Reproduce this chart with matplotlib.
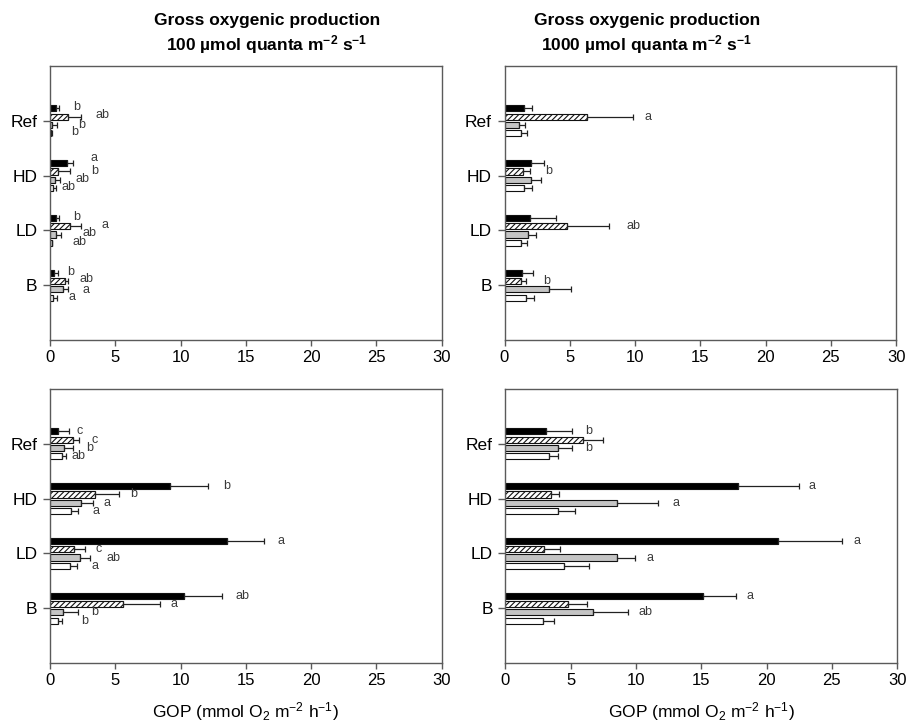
import matplotlib
matplotlib.use("Agg")
import matplotlib.pyplot as plt
import numpy as np

plt.rcParams['font.family'] = ['Liberation Sans', 'DejaVu Sans']
plt.rcParams['mathtext.fontset'] = 'custom'
plt.rcParams['mathtext.rm'] = 'Liberation Sans'
plt.rcParams['mathtext.it'] = 'Liberation Sans:italic'
plt.rcParams['mathtext.bf'] = 'Liberation Sans:bold'
plt.rcParams['hatch.linewidth'] = 0.8

# ---------------- data ----------------
categories = ["Ref", "HD", "LD", "B"]
x_ticks = [0, 5, 10, 15, 20, 25, 30]

# Panel A: top-left (100 umol quanta, upper row)
a_black = [0.46, 1.28, 0.46, 0.33]
a_black_err = [0.26, 0.46, 0.26, 0.26]
a_hatch = [1.40, 0.64, 1.53, 1.15]
a_hatch_err = [0.95, 0.89, 0.85, 0.20]
a_gray = [0.18, 0.38, 0.46, 1.02]
a_gray_err = [0.32, 0.39, 0.38, 0.38]
a_white = [0.08, 0.20, 0.13, 0.26]
a_white_err = [0.10, 0.26, 0.05, 0.30]
a_letters = [["b", "ab", "b", "b"],
             ["a", "b", "ab", "ab"],
             ["b", "a", "ab", "ab"],
             ["b", "ab", "a", "a"]]
a_letter_x = [[1.74, 3.45, 2.12, 1.61],
              [3.12, 3.12, 1.92, 0.89],
              [1.74, 3.96, 2.50, 1.74],
              [1.33, 2.25, 2.48, 1.38]]
a_letter_y = [[4.26, 4.10, 3.92, 3.79],
              [3.33, 3.09, 2.94, 2.79],
              [2.25, 2.09, 1.95, 1.79],
              [1.25, 1.12, 0.91, 0.78]]

# Panel B: top-right (1000 umol quanta, upper row)
b_black = [1.53, 2.04, 1.97, 1.35]
b_black_err = [0.59, 1.00, 1.96, 0.87]
b_hatch = [6.31, 1.40, 4.78, 1.25]
b_hatch_err = [3.57, 0.57, 3.19, 0.36]
b_gray = [1.12, 2.02, 1.81, 3.40]
b_gray_err = [0.46, 0.79, 0.57, 1.68]
b_white = [1.23, 1.46, 1.23, 1.63]
b_white_err = [0.46, 0.61, 0.46, 0.64]
b_letters = [["", "a", "", ""],
             ["", "b", "", ""],
             ["", "ab", "", ""],
             ["", "b", "", ""]]
b_letter_x = [[0, 10.7, 0, 0],
              [0, 3.09, 0, 0],
              [0, 9.37, 0, 0],
              [0, 2.99, 0, 0]]

# Panel C: bottom-left (100 umol quanta, lower row)
c_black = [0.59, 9.20, 13.56, 10.24]
c_black_err = [0.89, 2.93, 2.86, 2.94]
c_hatch = [1.74, 3.47, 1.81, 5.59]
c_hatch_err = [0.51, 1.84, 0.85, 2.81]
c_gray = [1.05, 2.40, 2.32, 1.02]
c_gray_err = [0.74, 0.92, 0.75, 1.10]
c_white = [0.89, 1.61, 1.53, 0.59]
c_white_err = [0.34, 0.56, 0.56, 0.33]
c_letters = [["c", "c", "b", "ab"],
             ["b", "b", "a", "a"],
             ["a", "c", "ab", "a"],
             ["ab", "a", "b", "b"]]
c_letter_x = [[2.04, 3.15, 2.76, 1.61],
              [13.28, 6.15, 4.10, 3.29],
              [17.40, 3.47, 4.29, 3.19],
              [14.18, 9.22, 3.19, 2.37]]

# Panel D: bottom-right (1000 umol quanta, lower row)
d_black = [3.14, 17.78, 20.84, 15.12]
d_black_err = [1.97, 4.70, 4.96, 2.50]
d_hatch = [5.95, 3.50, 2.96, 4.80]
d_hatch_err = [1.51, 0.59, 1.18, 1.48]
d_gray = [4.01, 8.51, 8.51, 6.67]
d_gray_err = [1.10, 3.19, 1.40, 2.68]
d_white = [3.32, 4.04, 4.47, 2.89]
d_white_err = [0.72, 1.30, 1.89, 0.81]
d_letters = [["b", "", "b", ""],
             ["a", "", "a", ""],
             ["a", "", "a", ""],
             ["a", "", "ab", ""]]
d_letter_x = [[6.13, 0, 6.13, 0],
              [23.2, 0, 12.8, 0],
              [26.65, 0, 10.79, 0],
              [18.49, 0, 10.2, 0]]

title_left_1 = "Gross oxygenic production"
title_left_2 = r"100 µmol quanta m$^{\mathbf{-2}}$ s$^{\mathbf{-1}}$"
title_right_1 = "Gross oxygenic production"
title_right_2 = r"1000 µmol quanta m$^{\mathbf{-2}}$ s$^{\mathbf{-1}}$"
x_label = r"GOP (mmol O$_2$ m$^{-2}$ h$^{-1}$)"

# ---------------- styles ----------------
series_styles = [
    dict(color="black", hatch=None),
    dict(color="white", hatch="//////"),
    dict(color="#c4c4c4", hatch=None),
    dict(color="white", hatch=None),
]
offsets = [0.225, 0.075, -0.075, -0.225]
bar_h = 0.11
spine_col = "#5a5a5a"

fig = plt.figure(figsize=(9.07, 7.25), dpi=100)

W, H = 907.0, 725.0
rects = {
    "A": [50 / W, 1 - 340 / H, 391.7 / W, 274 / H],
    "B": [504.5 / W, 1 - 340 / H, 391.7 / W, 274 / H],
    "C": [50 / W, 1 - 663 / H, 391.7 / W, 274 / H],
    "D": [505.5 / W, 1 - 663 / H, 391.7 / W, 274 / H],
}

panels = {
    "A": ([a_black, a_hatch, a_gray, a_white],
          [a_black_err, a_hatch_err, a_gray_err, a_white_err], a_letters, a_letter_x),
    "B": ([b_black, b_hatch, b_gray, b_white],
          [b_black_err, b_hatch_err, b_gray_err, b_white_err], b_letters, b_letter_x),
    "C": ([c_black, c_hatch, c_gray, c_white],
          [c_black_err, c_hatch_err, c_gray_err, c_white_err], c_letters, c_letter_x),
    "D": ([d_black, d_hatch, d_gray, d_white],
          [d_black_err, d_hatch_err, d_gray_err, d_white_err], d_letters, d_letter_x),
}

ypos = np.arange(len(categories), 0, -1).astype(float)  # Ref at top

for key, (vals, errs, letters, letter_x) in panels.items():
    ax = fig.add_axes(rects[key])
    for si, (v, e, st) in enumerate(zip(vals, errs, series_styles)):
        y = ypos + offsets[si]
        ax.barh(y, v, height=bar_h, color=st["color"], edgecolor="#111111",
                linewidth=0.8, hatch=st["hatch"], zorder=2)
        ax.errorbar(v, y, xerr=[np.zeros(len(v)), e], fmt="none",
                    ecolor="#222222", elinewidth=0.9, capsize=2.5,
                    capthick=0.9, zorder=3)
    for ci in range(len(categories)):
        for si in range(4):
            lab = letters[ci][si]
            if lab:
                ty = a_letter_y[ci][si] if key == "A" else ypos[ci] + offsets[si]
                ax.text(letter_x[ci][si], ty, lab,
                        fontsize=9, color="#3a3a3a", ha="left", va="center")
    ax.set_xlim(0, 30)
    ax.set_ylim(0, 5)
    ax.set_xticks(x_ticks)
    ax.set_xticklabels([str(t) for t in x_ticks])
    ax.set_yticks(ypos)
    ax.set_yticklabels(categories)
    ax.tick_params(axis="x", direction="out", length=4, width=1,
                   color=spine_col, labelsize=12, pad=3)
    ax.tick_params(axis="y", direction="out", length=5, width=1,
                   color=spine_col, labelsize=12.5, pad=4)
    for sp in ax.spines.values():
        sp.set_color(spine_col)
        sp.set_linewidth(1.0)
    if key in ("C", "D"):
        ax.set_xlabel(x_label, fontsize=12.5, labelpad=9)

fig.text(267 / W, 1 - 20 / H, title_left_1, fontsize=12.5, fontweight="bold",
         ha="center", va="center")
fig.text(267 / W, 1 - 45 / H, title_left_2, fontsize=12.5, fontweight="bold",
         ha="center", va="center")
fig.text(647 / W, 1 - 20 / H, title_right_1, fontsize=12.5, fontweight="bold",
         ha="center", va="center")
fig.text(647 / W, 1 - 45 / H, title_right_2, fontsize=12.5, fontweight="bold",
         ha="center", va="center")

fig.savefig("out.png", dpi=100)
